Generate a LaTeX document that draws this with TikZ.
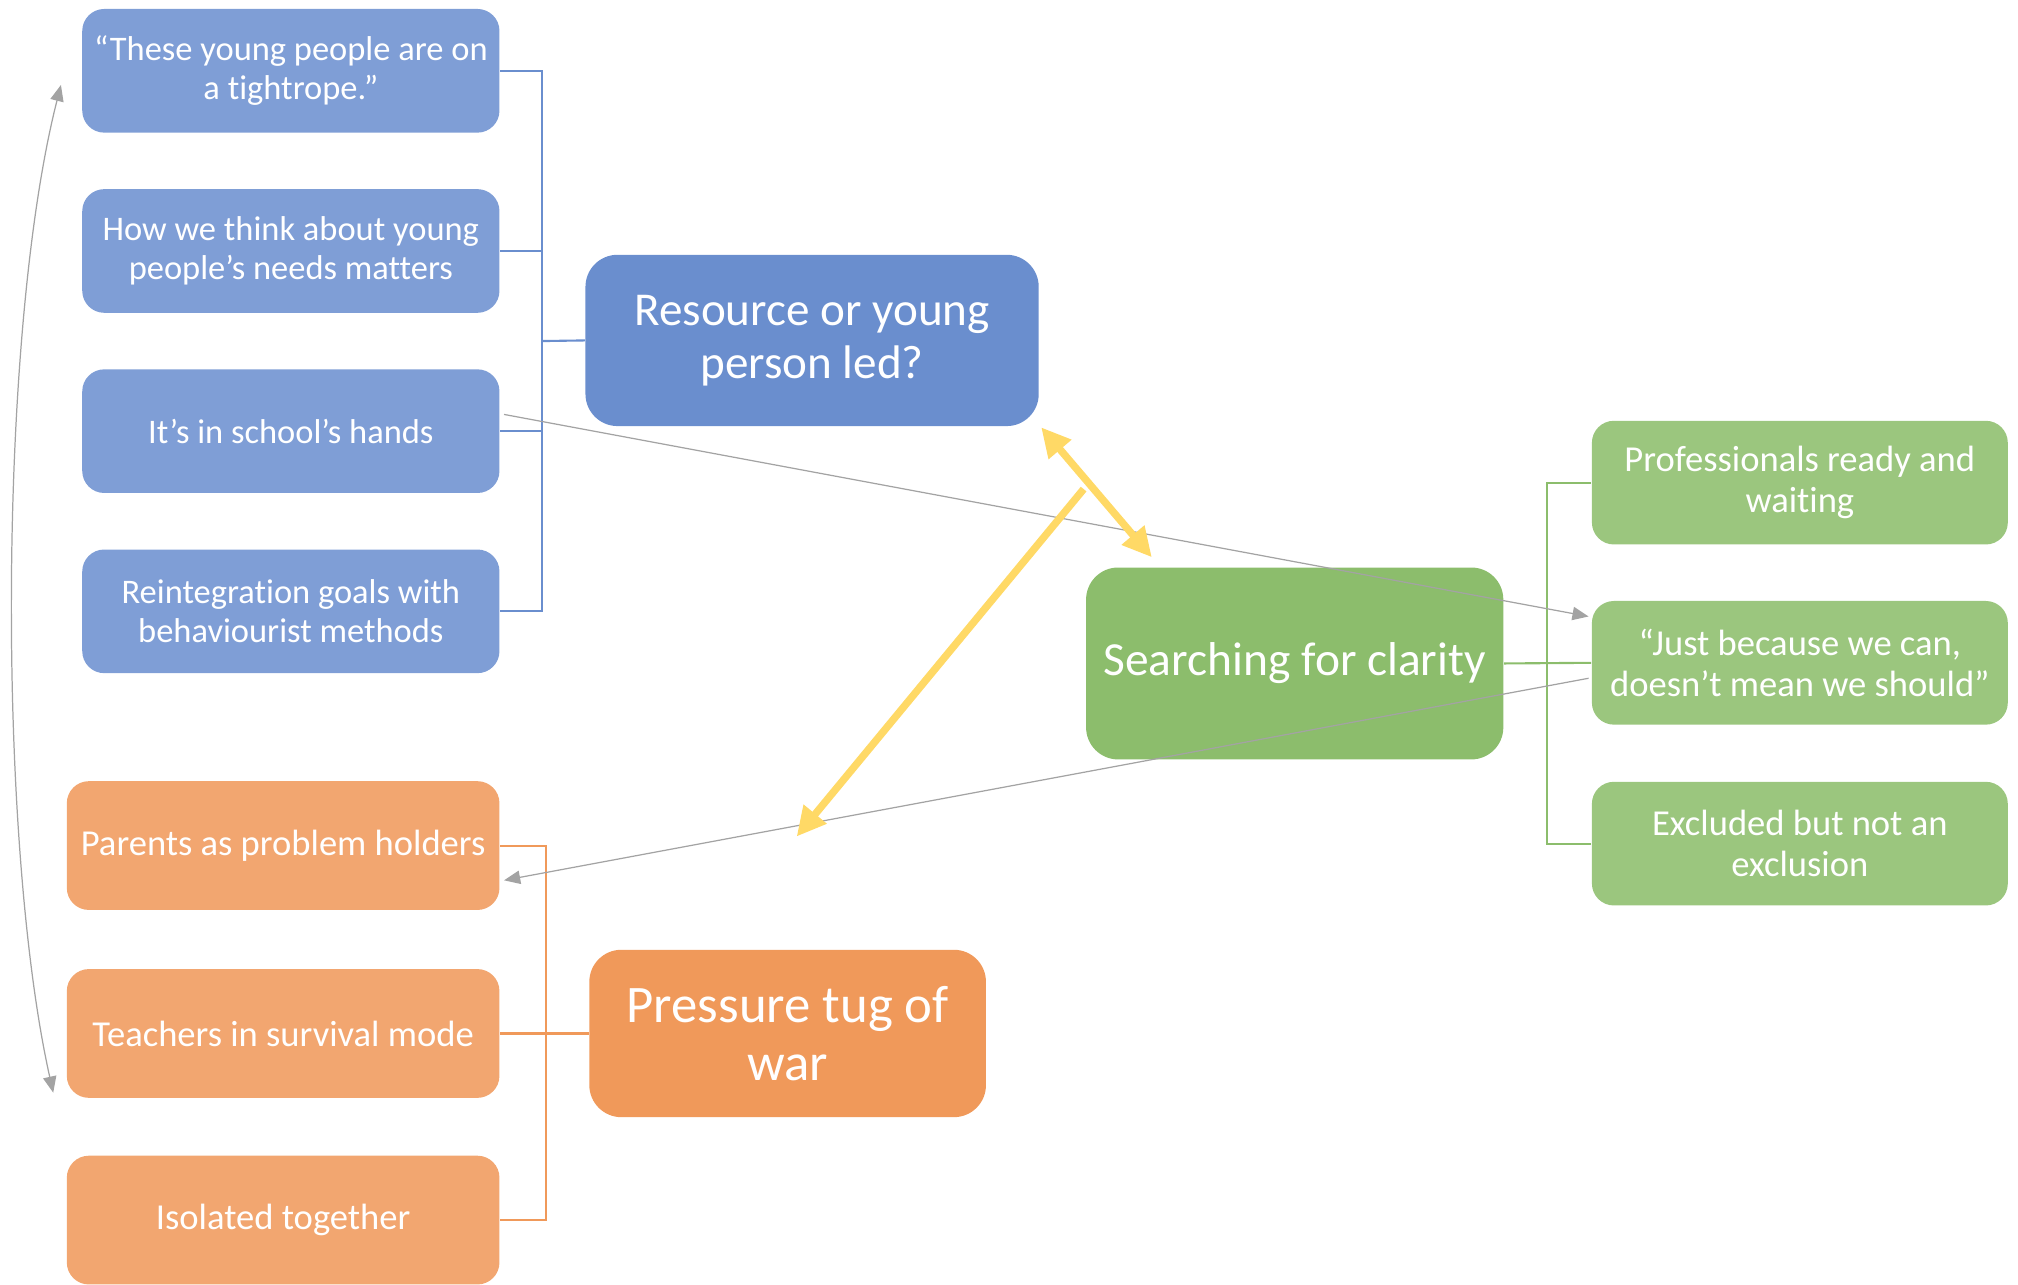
\documentclass[tikz,border=0pt]{standalone}
\usepackage{fontspec}
\setmainfont{Carlito}[Ligatures={NoCommon}]
\usetikzlibrary{arrows.meta,calc}

\definecolor{blueS}{HTML}{7F9ED6}
\definecolor{blueB}{HTML}{6A8ECE}
\definecolor{greenS}{HTML}{9BC67E}
\definecolor{greenB}{HTML}{8CBD6C}
\definecolor{orangeS}{HTML}{F2A670}
\definecolor{orangeB}{HTML}{F0995A}
\definecolor{linkgrey}{HTML}{A3A3A3}
\definecolor{gold}{HTML}{FFD966}

\tikzset{
  box/.style={rectangle, text=white, align=center, inner sep=0pt},
  smallbox/.style={box, rounded corners=0.22cm, minimum height=1.236cm},
  bigbox/.style={box, rounded corners=0.32cm},
  bluesmall/.style={smallbox, fill=blueS, minimum width=4.17cm,
    font=\fontsize{9.8}{11}\selectfont},
  greensmall/.style={smallbox, fill=greenS, minimum width=4.157cm,
    font=\fontsize{10.4}{11.8}\selectfont},
  orangesmall/.style={smallbox, fill=orangeS, minimum width=4.324cm, minimum height=1.287cm,
    font=\fontsize{10.4}{11.8}\selectfont},
  bluebig/.style={bigbox, fill=blueB, minimum width=4.53cm, minimum height=1.712cm,
    font=\fontsize{13.4}{15}\selectfont},
  greenbig/.style={bigbox, fill=greenB, minimum width=4.17cm, minimum height=1.918cm,
    font=\fontsize{13.5}{16.2}\selectfont},
  orangebig/.style={bigbox, fill=orangeB, minimum width=3.964cm, minimum height=1.673cm,
    font=\fontsize{15}{16.5}\selectfont},
  bluelink/.style={draw=blueB, line width=0.6pt},
  greenlink/.style={draw=greenB, line width=0.6pt},
  orangelink/.style={draw=orangeB, line width=0.6pt},
  greylink/.style={draw=linkgrey, line width=0.35pt, -{Triangle[length=4.6pt,width=3.8pt]}},
  goldlink/.style={draw=gold, line width=2.1pt, -{Triangle[length=8.3pt,width=8pt]}},
}

\begin{document}
\begin{tikzpicture}[x=0.01287cm, y=-0.01287cm]
\useasboundingbox (0,0) rectangle (1568,998);

% left column: blue themes
\node[bluesmall] (b1) at (226,55)  {“These young people are on\\a tightrope.”};
\node[bluesmall] (b2) at (226,195) {How we think about young\\people’s needs matters};
\node[bluesmall] (b3) at (226,335) {It’s in school’s hands};
\node[bluesmall] (b4) at (226,475) {Reintegration goals with\\behaviourist methods};
\node[bluebig] (B) at (631,264.5) {Resource or young\\person led?};

% left column: orange themes
\node[orangesmall] (o1) at (220,657) {Parents as problem holders};
\node[orangesmall] (o2) at (220,803) {Teachers in survival mode};
\node[orangesmall] (o3) at (220,948) {Isolated together};
\node[orangebig] (O) at (612,803) {Pressure tug of\\war};

% right side: green themes
\node[greenbig] (G) at (1006,515.5) {Searching for clarity};
\node[greensmall] (g1) at (1398.5,375) {Professionals ready and\\waiting};
\node[greensmall] (g2) at (1398.5,515) {“Just because we can,\\doesn’t mean we should”};
\node[greensmall] (g3) at (1398.5,655.5) {Excluded but not an\\exclusion};

% bracket joints
\coordinate (bj) at (421,265);
\coordinate (oj) at (424,803);
\coordinate (gj) at (1202,515);

% blue bracket
\draw[bluelink] (b1.east) -- (b1.east -| bj) -- (b4.east -| bj) -- (b4.east);
\draw[bluelink] (b2.east) -- (b2.east -| bj);
\draw[bluelink] (b3.east) -- (b3.east -| bj);
\draw[bluelink] (bj) -- (B.west);

% orange bracket
\draw[orangelink] (o1.east) -- (o1.east -| oj) -- (o3.east -| oj) -- (o3.east);
\draw[orangelink] (o2.east) -- (oj) -- (O.west);

% green bracket
\draw[greenlink] (g1.west) -- (g1.west -| gj) -- (g3.west -| gj) -- (g3.west);
\draw[greenlink] (G.east) -- (g2.west);

% grey cross links
\draw[greylink] ($(b3.east)+(3,-13)$) -- ($(g2.west)+(-2,-36)$);
\draw[greylink] ($(g2.west)+(-2,12)$) -- ($(o1.east)+(3,27)$);
\draw[greylink, {Triangle[length=4.6pt,width=3.8pt]}-{Triangle[length=4.6pt,width=3.8pt]}]
  ($(b1.west)+(-16,11)$) .. controls (-2,260) and (-2,655) .. ($(o2.west)+(-10,46)$);

% gold tension arrows
\coordinate (ya) at (809,332);
\coordinate (yb) at (895,433);
\coordinate (yc) at (842,380);
\coordinate (yd) at (619,650);
\draw[goldlink, {Triangle[length=8.3pt,width=8pt]}-{Triangle[length=8.3pt,width=8pt]}] (ya) -- (yb);
\draw[goldlink] (yc) -- (yd);
\end{tikzpicture}
\end{document}
